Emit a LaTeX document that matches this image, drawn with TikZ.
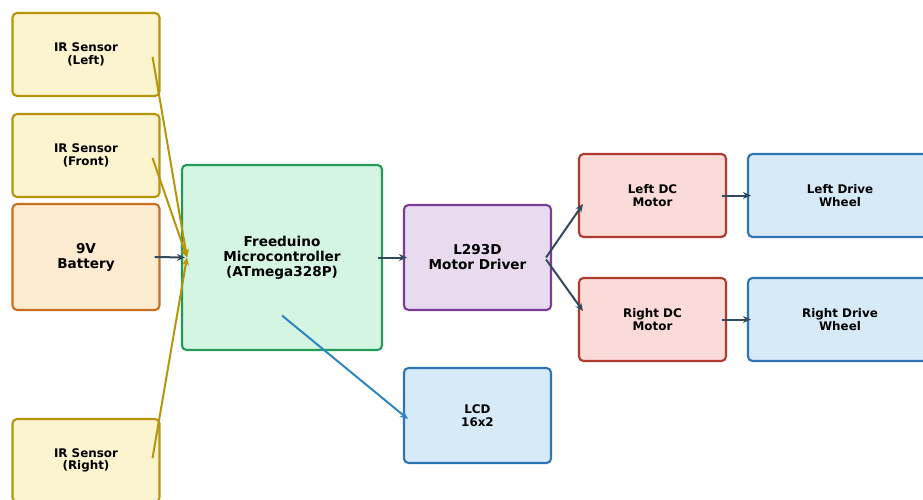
\documentclass[tikz,border=0pt]{standalone}
\usepackage{fontspec}
\setmainfont{DejaVu Sans}
\usetikzlibrary{arrows.meta,calc}
\definecolor{ylwF}{HTML}{FCF3CF}\definecolor{ylwD}{HTML}{B7950B}
\definecolor{orgF}{HTML}{FDEBD0}\definecolor{orgD}{HTML}{CA6F1E}
\definecolor{grnF}{HTML}{D5F5E3}\definecolor{grnD}{HTML}{239B56}
\definecolor{purF}{HTML}{E8DAEF}\definecolor{purD}{HTML}{7D3C98}
\definecolor{redF}{HTML}{FADBD8}\definecolor{redD}{HTML}{B03A2E}
\definecolor{bluF}{HTML}{D6EAF8}\definecolor{bluD}{HTML}{2E75B6}
\definecolor{arrD}{HTML}{34495E}\definecolor{arrB}{HTML}{2E86C1}
\tikzset{
  blk/.style={draw, line width=2.1pt, rounded corners=4.5pt, inner sep=0pt, align=center,
    font=\fontsize{11.9}{12.6}\selectfont\bfseries},
  big/.style={font=\fontsize{13.6}{15}\selectfont\bfseries},
  ylw/.style={blk, fill=ylwF, draw=ylwD},
  org/.style={blk, fill=orgF, draw=orgD},
  grn/.style={blk, fill=grnF, draw=grnD},
  pur/.style={blk, fill=purF, draw=purD},
  red/.style={blk, fill=redF, draw=redD},
  blu/.style={blk, fill=bluF, draw=bluD},
  conn/.style={line width=2pt, -{Stealth[length=8pt,width=7pt]}},
}
\begin{document}
\begin{tikzpicture}[x=1pt,y=-1pt]
\useasboundingbox (0,0) rectangle (923,500);
\clip (0,0) rectangle (923,500);
\node[ylw, minimum width=147pt, minimum height=83pt] (irl) at (86,54.5) {IR Sensor\\(Left)};
\node[ylw, minimum width=147pt, minimum height=83pt] (irf) at (86,155.5) {IR Sensor\\(Front)};
\node[org, big, minimum width=147pt, minimum height=106pt] (bat) at (86,257) {9V\\Battery};
\node[ylw, minimum width=147pt, minimum height=83pt] (irr) at (86,460.5) {IR Sensor\\(Right)};
\node[grn, big, minimum width=200pt, minimum height=185pt] (mcu) at (282,257.5) {Freeduino\\Microcontroller\\(ATmega328P)};
\node[pur, big, minimum width=147pt, minimum height=105pt] (drv) at (477.5,257.5) {L293D\\Motor Driver};
\node[blu, minimum width=147pt, minimum height=95pt] (lcd) at (477.5,415.5) {LCD\\16x2};
\node[red, minimum width=147pt, minimum height=83pt] (lm) at (652.5,195.5) {Left DC\\Motor};
\node[red, minimum width=147pt, minimum height=83pt] (rm) at (652.5,319.5) {Right DC\\Motor};
\node[blu, minimum width=184pt, minimum height=83pt] (lw) at (840,195.5) {Left Drive\\Wheel};
\node[blu, minimum width=184pt, minimum height=83pt] (rw) at (840,319.5) {Right Drive\\Wheel};
% connectors
\draw[conn, draw=ylwD, color=ylwD] ([xshift=-8pt,yshift=-2.5pt]irl.east) -- ([xshift=6pt]mcu.west);
\draw[conn, draw=ylwD, color=ylwD] ([xshift=-8pt,yshift=-2.5pt]irf.east) -- ([xshift=6pt]mcu.west);
\draw[conn, draw=ylwD, color=ylwD] ([xshift=-8pt,yshift=2.5pt]irr.east) -- ([xshift=6pt]mcu.west);
\draw[conn, draw=arrD, color=arrD] ([xshift=-6pt]bat.east) -- ([xshift=4pt]mcu.west);
\draw[conn, draw=arrD, color=arrD] ([xshift=-5pt]mcu.east) -- ([xshift=4pt]drv.west);
\draw[conn, draw=arrB, color=arrB] ([yshift=-58pt]mcu.center) -- ([xshift=5pt,yshift=-3.5pt]lcd.west);
\draw[conn, draw=arrD, color=arrD] ([xshift=-6pt]drv.east) -- ([xshift=5pt,yshift=-8.5pt]lm.west);
\draw[conn, draw=arrD, color=arrD] ([xshift=-6pt,yshift=-2pt]drv.east) -- ([xshift=5pt,yshift=8.5pt]rm.west);
\draw[conn, draw=arrD, color=arrD] ([xshift=-5pt]lm.east) -- ([xshift=4pt]lw.west);
\draw[conn, draw=arrD, color=arrD] ([xshift=-5pt]rm.east) -- ([xshift=4pt]rw.west);
\end{tikzpicture}
\end{document}
